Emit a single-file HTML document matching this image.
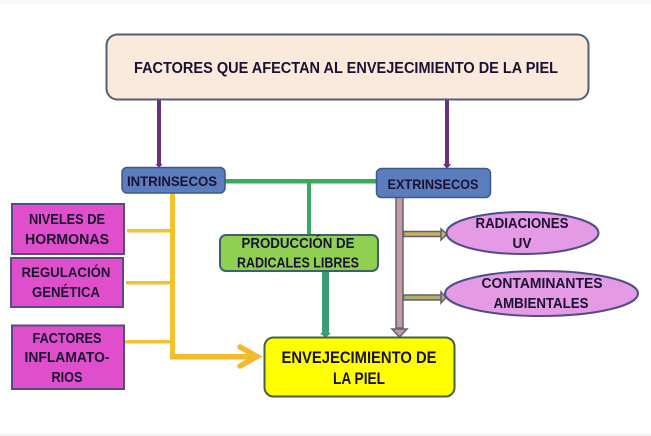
<!DOCTYPE html>
<html>
<head>
<meta charset="utf-8">
<style>
html,body{margin:0;padding:0;background:#fff;width:651px;height:436px;overflow:hidden}
svg{display:block;filter:blur(.3px)}
text{font-family:"Liberation Sans",sans-serif;font-weight:bold;fill:#1a1230;text-anchor:middle}
</style>
</head>
<body>
<svg width="651" height="436" viewBox="0 0 651 436" xmlns="http://www.w3.org/2000/svg">
<rect x="0" y="0" width="651" height="436" fill="#fff"/>
<rect x="0" y="0" width="651" height="4" fill="#f8f8f8"/>
<rect x="0" y="434" width="651" height="2" fill="#f2f2f2"/>

<!-- purple connectors -->
<rect x="157" y="98" width="4" height="67" fill="#64308a"/>
<polygon points="155.500,164 162.500,164 159,168" fill="#64308a"/>
<rect x="445" y="98" width="4" height="67" fill="#64308a"/>
<polygon points="443,164 451,164 447,169" fill="#64308a"/>

<!-- green connectors -->
<rect x="224" y="179" width="154" height="4.500" fill="#36ad58"/>
<rect x="307" y="181" width="4" height="55" fill="#36a860"/>
<!-- teal -->
<rect x="322" y="270" width="7" height="64" fill="#3f9c78"/>
<polygon points="320,333 331,333 325.500,338" fill="#3f9c78"/>

<!-- yellow connectors -->
<rect x="170" y="192" width="5" height="167" fill="#f4c02e"/>
<rect x="127" y="229" width="45" height="3.500" fill="#f4c02e"/>
<rect x="126" y="281" width="46" height="3.500" fill="#f4c02e"/>
<rect x="125" y="340" width="47" height="3.500" fill="#f4c02e"/>
<rect x="170" y="354" width="84" height="5.500" fill="#f4b92c"/>
<polyline points="240,347 257,356.500 240,366" fill="none" stroke="#f4b92c" stroke-width="5.500" stroke-linecap="round" stroke-linejoin="miter"/>

<!-- mauve arrow -->
<rect x="396" y="197" width="7" height="131" fill="#c79a9f" stroke="#5c6478" stroke-width="1.500"/>
<polygon points="392,329 407,329 399.500,337" fill="#c79a9f" stroke="#5c6478" stroke-width="1.500"/>

<!-- small arrows -->
<rect x="403.500" y="231.500" width="38" height="5" fill="#c6b35e" stroke="#5c6070" stroke-width="1.500"/>
<polygon points="441,229 441,240 447,234" fill="#c6b35e" stroke="#5c6070" stroke-width="1.500"/>
<rect x="403.500" y="295" width="38" height="5" fill="#b5ad6a" stroke="#5c6070" stroke-width="1.500"/>
<polygon points="441,292 441,303 446,297.500" fill="#b5ad6a" stroke="#5c6070" stroke-width="1.500"/>

<!-- title -->
<rect x="106.500" y="34.500" width="482" height="65" rx="11" fill="#fbe9db" stroke="#4f5f78" stroke-width="2"/>
<text x="346" y="73" font-size="16" textLength="424" lengthAdjust="spacingAndGlyphs">FACTORES QUE AFECTAN AL ENVEJECIMIENTO DE LA PIEL</text>

<!-- blue boxes -->
<rect x="122" y="167.500" width="103" height="25.500" rx="5" fill="#5b7dbd" stroke="#3c5a8c" stroke-width="1.500"/>
<text x="172" y="186" font-size="14" textLength="90" lengthAdjust="spacingAndGlyphs">INTRINSECOS</text>
<rect x="376.500" y="168.500" width="114" height="29" rx="5" fill="#5b7dbd" stroke="#3c5a8c" stroke-width="1.500"/>
<text x="433" y="189" font-size="14" textLength="91" lengthAdjust="spacingAndGlyphs">EXTRINSECOS</text>

<!-- magenta boxes -->
<rect x="12" y="204" width="112" height="50" fill="#e04fcb" stroke="#5a4a8c" stroke-width="2"/>
<text x="67" y="224" font-size="14.500" textLength="76" lengthAdjust="spacingAndGlyphs">NIVELES DE</text>
<text x="67" y="244" font-size="14.500" textLength="84" lengthAdjust="spacingAndGlyphs">HORMONAS</text>
<rect x="11" y="258" width="112" height="49" fill="#e04fcb" stroke="#5a4a8c" stroke-width="2"/>
<text x="66" y="277" font-size="14" textLength="89" lengthAdjust="spacingAndGlyphs">REGULACIÓN</text>
<text x="66" y="297" font-size="14.500" textLength="68" lengthAdjust="spacingAndGlyphs">GENÉTICA</text>
<rect x="12" y="325.500" width="112" height="63.500" fill="#e04fcb" stroke="#5a4a8c" stroke-width="2"/>
<text x="67" y="343" font-size="14.500" textLength="69" lengthAdjust="spacingAndGlyphs">FACTORES</text>
<text x="67" y="362" font-size="14.500" textLength="85" lengthAdjust="spacingAndGlyphs">INFLAMATO-</text>
<text x="67" y="382" font-size="14.500" textLength="31" lengthAdjust="spacingAndGlyphs">RIOS</text>

<!-- green box -->
<rect x="220" y="235" width="158" height="36" rx="6" fill="#8fd052" stroke="#3d6268" stroke-width="2"/>
<text x="298" y="248" font-size="14.500" textLength="113" lengthAdjust="spacingAndGlyphs">PRODUCCIÓN DE</text>
<text x="298" y="267.500" font-size="14.500" textLength="122" lengthAdjust="spacingAndGlyphs">RADICALES LIBRES</text>

<!-- ellipses -->
<ellipse cx="522.500" cy="233" rx="76" ry="21" fill="#e49ae4" stroke="#4e4f8a" stroke-width="2"/>
<text x="522" y="228" font-size="14.500" textLength="93" lengthAdjust="spacingAndGlyphs">RADIACIONES</text>
<text x="522" y="248" font-size="14.500" textLength="19" lengthAdjust="spacingAndGlyphs">UV</text>
<ellipse cx="541.500" cy="293.500" rx="96.500" ry="22.500" fill="#e49ae4" stroke="#4e4f8a" stroke-width="2"/>
<text x="542" y="288" font-size="14.500" textLength="121" lengthAdjust="spacingAndGlyphs">CONTAMINANTES</text>
<text x="541" y="308" font-size="14.500" textLength="95" lengthAdjust="spacingAndGlyphs">AMBIENTALES</text>

<!-- yellow box -->
<rect x="264.500" y="337.500" width="190" height="59" rx="9" fill="#ffff00" stroke="#44604a" stroke-width="2"/>
<text x="359" y="363" font-size="16.500" textLength="155" lengthAdjust="spacingAndGlyphs">ENVEJECIMIENTO DE</text>
<text x="359" y="384" font-size="16.500" textLength="52" lengthAdjust="spacingAndGlyphs">LA PIEL</text>
</svg>
</body>
</html>
